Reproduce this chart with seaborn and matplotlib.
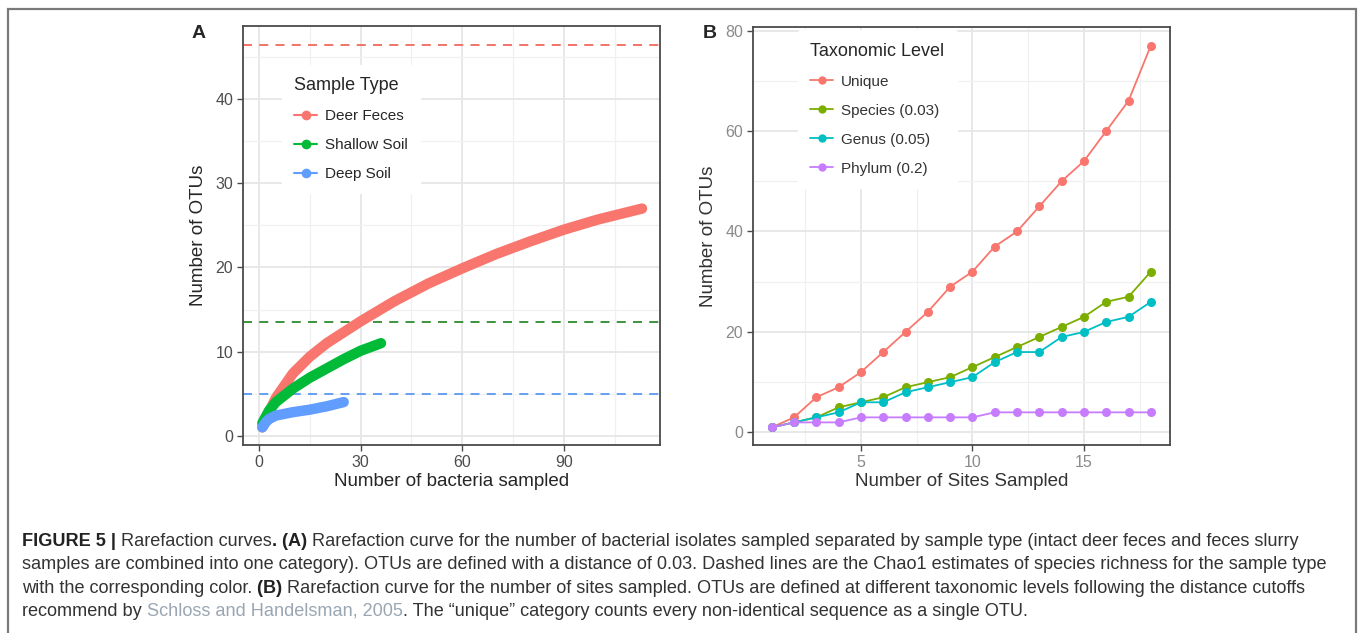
import matplotlib
matplotlib.use("Agg")
import matplotlib.pyplot as plt
from matplotlib.lines import Line2D
from matplotlib.patches import Rectangle
from matplotlib.ticker import MultipleLocator
import seaborn as sns
import pandas as pd

# ---- panel A: rarefaction by sample type ----
deer_x = [1, 3, 5, 10, 15, 20, 30, 40, 50, 60, 70, 80, 90, 100, 113]
deer_y = [1.0, 2.8, 4.5, 7.4, 9.4, 11.0, 13.6, 16.0, 18.1, 19.9, 21.6, 23.1, 24.5, 25.7, 27.0]
shallow_x = [1, 3, 5, 10, 15, 20, 25, 30, 36]
shallow_y = [1.5, 3.0, 4.0, 5.6, 6.9, 8.0, 9.1, 10.1, 11.0]
deep_x = [1, 2, 3, 5, 10, 15, 20, 25]
deep_y = [1.0, 1.6, 2.0, 2.4, 2.8, 3.1, 3.5, 4.0]
sample_types = ["Deer Feces", "Shallow Soil", "Deep Soil"]
chao1 = [46.5, 13.5, 5.0]

# ---- panel B: rarefaction by site ----
sites = list(range(1, 19))
unique = [1, 3, 7, 9, 12, 16, 20, 24, 29, 32, 37, 40, 45, 50, 54, 60, 66, 77]
species = [1, 2, 3, 5, 6, 7, 9, 10, 11, 13, 15, 17, 19, 21, 23, 26, 27, 32]
genus = [1, 2, 3, 4, 6, 6, 8, 9, 10, 11, 14, 16, 16, 19, 20, 22, 23, 26]
phylum = [1, 2, 2, 2, 3, 3, 3, 3, 3, 3, 4, 4, 4, 4, 4, 4, 4, 4]
levels = ["Unique", "Species (0.03)", "Genus (0.05)", "Phylum (0.2)"]

pal_a = ["#F8766D", "#00BA38", "#619CFF"]
dash_a = ["#F0695E", "#2E8B2E", "#5C98F2"]
pal_b = ["#F8766D", "#7CAE00", "#00BFC4", "#C77CFF"]

sns.set_style("white")
plt.rcParams["font.family"] = ["Liberation Sans", "DejaVu Sans"]

W, H = 1358, 633
fig = plt.figure(figsize=(W / 100, H / 100), dpi=100)


def px_axes(l, t, r, b):
    return fig.add_axes([l / W, 1 - b / H, (r - l) / W, (b - t) / H])


def style_axes(ax, tick_color):
    for s in ax.spines.values():
        s.set_color("#4a4a4a")
        s.set_linewidth(1.3)
    ax.grid(True, which="major", color="#E6E6E6", lw=1.3, zorder=0)
    ax.grid(True, which="minor", color="#F0F0F0", lw=0.9, zorder=0)
    ax.set_axisbelow(True)
    ax.tick_params(which="major", direction="out", length=4, width=1,
                   color="#4a4a4a", labelsize=11.5, labelcolor=tick_color, pad=3,
                   bottom=True, left=True)
    ax.tick_params(which="minor", length=0)


def white_legend(leg):
    fr = leg.get_frame()
    fr.set_edgecolor("white")
    fr.set_facecolor("white")
    fr.set_alpha(1)


# ---------------- panel A ----------------
ax1 = px_axes(243, 26, 660, 445)
df_a = pd.concat([
    pd.DataFrame({"n": deer_x, "otu": deer_y, "type": sample_types[0]}),
    pd.DataFrame({"n": shallow_x, "otu": shallow_y, "type": sample_types[1]}),
    pd.DataFrame({"n": deep_x, "otu": deep_y, "type": sample_types[2]}),
])
sns.lineplot(data=df_a, x="n", y="otu", hue="type", hue_order=sample_types,
             palette=pal_a, lw=7.5, solid_capstyle="round", legend=False, ax=ax1)
for v, c in zip(chao1, dash_a):
    ax1.axhline(v, color=c, lw=1.3, ls=(0, (5, 4)), zorder=1)
ax1.set_xlim(-4.7, 118.3)
ax1.set_ylim(-1.1, 48.7)
ax1.xaxis.set_major_locator(MultipleLocator(30))
ax1.xaxis.set_minor_locator(MultipleLocator(15))
ax1.yaxis.set_major_locator(MultipleLocator(10))
ax1.yaxis.set_minor_locator(MultipleLocator(5))
style_axes(ax1, "#4d4d4d")
ax1.set_xlabel("Number of bacteria sampled", fontsize=13.5, labelpad=2)
ax1.set_ylabel("Number of OTUs", fontsize=13.5, labelpad=6)
handles_a = [Line2D([], [], color=c, lw=1.5, marker="o", ms=7, mew=0) for c in pal_a]
leg = ax1.legend(handles_a, sample_types, title="Sample Type", loc="upper left",
                 bbox_to_anchor=(0.075, 0.925), frameon=True, fontsize=11,
                 title_fontsize=13, handlelength=1.5, handletextpad=0.5,
                 labelspacing=0.98, borderpad=0.8, alignment="left")
white_legend(leg)

# ---------------- panel B ----------------
ax2 = px_axes(753, 27, 1170, 445)
df_b = pd.concat([
    pd.DataFrame({"site": sites, "otu": vals, "level": lv})
    for vals, lv in zip([unique, species, genus, phylum], levels)
])
sns.lineplot(data=df_b, x="site", y="otu", hue="level", hue_order=levels,
             palette=pal_b, lw=1.3, marker="o", ms=6.5, mew=0, legend=False, ax=ax2)
ax2.set_xlim(0.16, 18.86)
ax2.set_ylim(-2.5, 80.7)
ax2.xaxis.set_major_locator(MultipleLocator(5))
ax2.xaxis.set_minor_locator(MultipleLocator(2.5))
ax2.yaxis.set_major_locator(MultipleLocator(20))
ax2.yaxis.set_minor_locator(MultipleLocator(10))
style_axes(ax2, "#8a8a8a")
ax2.set_xlabel("Number of Sites Sampled", fontsize=13.5, labelpad=2, color="#333333")
ax2.set_ylabel("Number of OTUs", fontsize=13.5, labelpad=6, color="#333333")
handles_b = [Line2D([], [], color=c, lw=1.3, marker="o", ms=6, mew=0) for c in pal_b]
leg2 = ax2.legend(handles_b, levels, title="Taxonomic Level", loc="upper left",
                  bbox_to_anchor=(0.09, 1.01), frameon=True, fontsize=11,
                  title_fontsize=13, handlelength=1.5, handletextpad=0.5,
                  labelspacing=0.98, borderpad=0.8, alignment="left")
white_legend(leg2)
for t in leg2.get_texts():
    t.set_color("#333333")

# panel letters
fig.text(199 / W, 1 - 34 / H, "A", fontsize=14, fontweight="bold", ha="center", va="center")
fig.text(710 / W, 1 - 34 / H, "B", fontsize=14, fontweight="bold", ha="center", va="center")

# outer frame
fig.add_artist(Rectangle((8 / W, -0.05), (1356 - 8) / W, 1.05 - 9 / H,
                         transform=fig.transFigure, fill=False,
                         edgecolor="#7a7a7a", lw=1.6))

# ---------------- caption ----------------
cap_ax = fig.add_axes([0, 0, 1, 1])
cap_ax.axis("off")
cap_size = 13.1
link = "#9aa6b2"
caption = [
    [("FIGURE 5 |", "bold", "#222222"), (" Rarefaction curves", "normal", "#333333"),
     (".", "bold", "#222222"), (" (A)", "bold", "#222222"),
     (" Rarefaction curve for the number of bacterial isolates sampled separated by sample type "
      "(intact deer feces and feces slurry", "normal", "#333333")],
    [("samples are combined into one category). OTUs are defined with a distance of 0.03. Dashed "
      "lines are the Chao1 estimates of species richness for the sample type", "normal", "#333333")],
    [("with the corresponding color.", "normal", "#333333"), (" (B)", "bold", "#222222"),
     (" Rarefaction curve for the number of sites sampled. OTUs are defined at different "
      "taxonomic levels following the distance cutoffs", "normal", "#333333")],
    [("recommend by ", "normal", "#333333"), ("Schloss and Handelsman, 2005", "normal", link),
     (". The \u201cunique\u201d category counts every non-identical sequence as a single OTU.",
      "normal", "#333333")],
]
baselines = [545, 568, 592, 615]
for line, yb in zip(caption, baselines):
    prev = None
    for txt, wt, col in line:
        if prev is None:
            prev = cap_ax.text(22 / W, 1 - (yb + 5) / H, txt, fontsize=cap_size,
                               fontweight=wt, color=col, ha="left", va="bottom",
                               transform=cap_ax.transAxes)
        else:
            prev = cap_ax.annotate(txt, xy=(1, 0), xycoords=prev, fontsize=cap_size,
                                   fontweight=wt, color=col, ha="left", va="bottom")

fig.savefig("out.png", dpi=100)
